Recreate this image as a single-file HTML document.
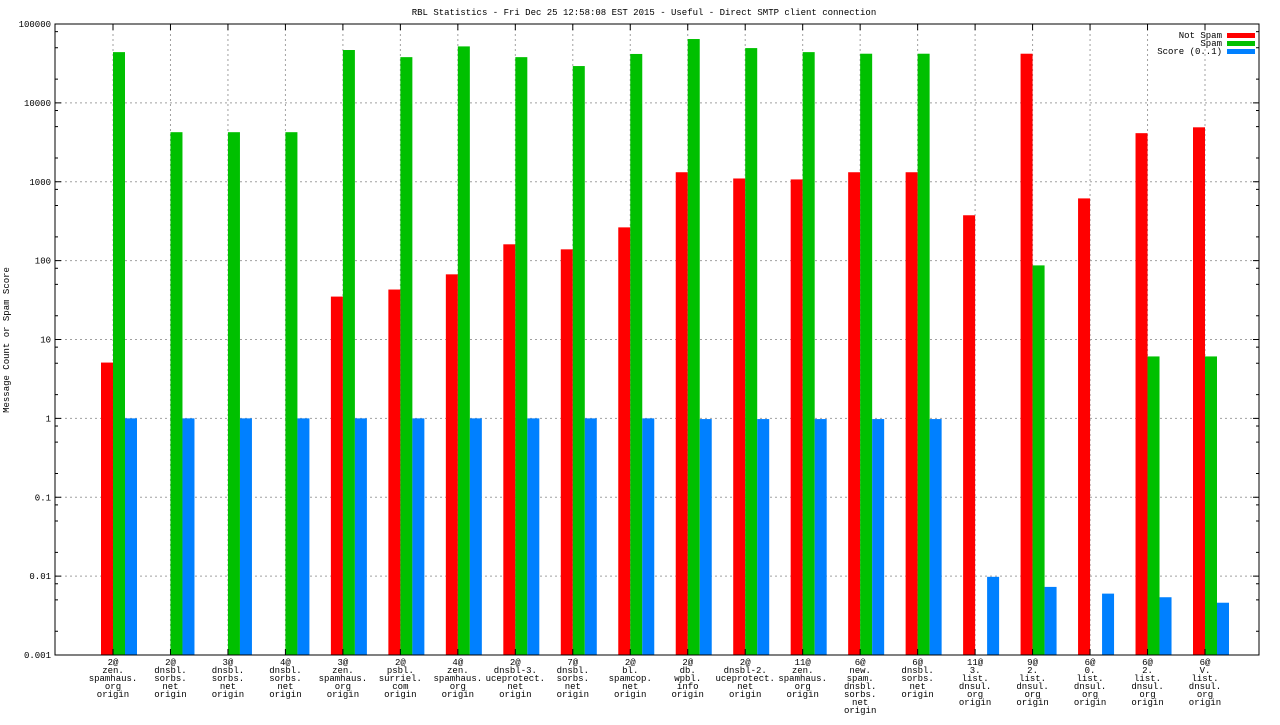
<!DOCTYPE html>
<html><head><meta charset="utf-8"><style>
body{margin:0;background:#fff;}
svg text{font-family:"Liberation Mono","DejaVu Sans Mono",monospace;font-size:9px;fill:#000;}
</style></head><body>
<svg id="chart" width="1280" height="720" xmlns="http://www.w3.org/2000/svg">
<text x="644" y="15" text-anchor="middle">RBL Statistics - Fri Dec 25 12:58:08 EST 2015 - Useful - Direct SMTP client connection</text>
<text transform="translate(9,340) rotate(-90)" text-anchor="middle">Message Count or Spam Score</text>
<g id="grid"></g><g id="bars"></g><g id="axes"></g>
<g>
<text x="1222" y="38" text-anchor="end">Not Spam</text><rect x="1227" y="33" width="28" height="5" fill="#ff0000"/>
<text x="1222" y="46" text-anchor="end">Spam</text><rect x="1227" y="41" width="28" height="5" fill="#00c000"/>
<text x="1222" y="54" text-anchor="end">Score (0..1)</text><rect x="1227" y="49" width="28" height="5" fill="#0080ff"/>
</g>
</svg>
<script>
const categories=[["2@","zen.","spamhaus.","org","origin"],["2@","dnsbl.","sorbs.","net","origin"],["3@","dnsbl.","sorbs.","net","origin"],["4@","dnsbl.","sorbs.","net","origin"],["3@","zen.","spamhaus.","org","origin"],["2@","psbl.","surriel.","com","origin"],["4@","zen.","spamhaus.","org","origin"],["2@","dnsbl-3.","uceprotect.","net","origin"],["7@","dnsbl.","sorbs.","net","origin"],["2@","bl.","spamcop.","net","origin"],["2@","db.","wpbl.","info","origin"],["2@","dnsbl-2.","uceprotect.","net","origin"],["11@","zen.","spamhaus.","org","origin"],["6@","new.","spam.","dnsbl.","sorbs.","net","origin"],["6@","dnsbl.","sorbs.","net","origin"],["11@","3.","list.","dnsul.","org","origin"],["9@","2.","list.","dnsul.","org","origin"],["6@","0.","list.","dnsul.","org","origin"],["6@","2.","list.","dnsul.","org","origin"],["6@","V.","list.","dnsul.","org","origin"]];
const notSpam=[5.1,0,0,0,35,43,67,161,139,264,1320,1100,1070,1320,1320,376,42000,615,4130,4900];
const spam=[44000,4250,4250,4250,46800,38000,52000,38000,29300,41700,64500,49500,44000,42000,42000,0,87,0,6.1,6.1];
const score=[1,1,1,1,1,1,1,1,1,1,0.98,0.98,0.98,0.98,0.98,0.0098,0.0073,0.006,0.0054,0.0046];
const yTicks=[0.001,0.01,0.1,1,10,100,1000,10000,100000];
const yTickLabels=["0.001","0.01","0.1","1","10","100","1000","10000","100000"];
const NS="http://www.w3.org/2000/svg";
const L=55,R=1259,T=24,B=655;
function y(v){return B-(Math.log10(v)+3)*(B-T)/8;}
function x(i){return 113+i*(1205-113)/19;}
function mk(tag,attrs,parent){const e=document.createElementNS(NS,tag);for(const k in attrs)e.setAttribute(k,attrs[k]);parent.appendChild(e);return e;}
const grid=document.getElementById('grid'),bars=document.getElementById('bars'),axes=document.getElementById('axes');
yTicks.forEach((v,k)=>{const yy=y(v);
 if(k>0&&k<yTicks.length-1){const g=mk('line',{x1:L,x2:R,y1:yy,y2:yy,stroke:'#a0a0a0','stroke-dasharray':'2,3'},grid);
 
 }
 mk('line',{x1:L,x2:L+6,y1:yy,y2:yy,stroke:'#000'},axes);mk('line',{x1:R-6,x2:R,y1:yy,y2:yy,stroke:'#000'},axes);
 const t=mk('text',{x:L-4,y:yy+3,'text-anchor':'end'},axes);t.textContent=yTickLabels[k];
 
 
 if(k<yTicks.length-1)[2,5,8].forEach(m=>{const my=y(v*m);mk('line',{x1:L,x2:L+3,y1:my,y2:my,stroke:'#000'},axes);mk('line',{x1:R-3,x2:R,y1:my,y2:my,stroke:'#000'},axes);});
});
categories.forEach((lab,i)=>{const xx=x(i);
 const g=mk('line',{x1:xx,x2:xx,y1:T,y2:B,stroke:'#a0a0a0','stroke-dasharray':'2,3'},grid);
 
 
 mk('line',{x1:xx,x2:xx,y1:B,y2:B-6,stroke:'#000'},axes);mk('line',{x1:xx,x2:xx,y1:T,y2:T+6,stroke:'#000'},axes);
 const t=mk('text',{x:xx,y:665,'text-anchor':'middle'},axes);
 
 
 lab.forEach((s,j)=>{const ts=mk('tspan',{x:xx,dy:j?8:0},t);ts.textContent=s;});
 [[notSpam,'#ff0000',-12,'bar-not-spam'],[spam,'#00c000',0,'bar-spam'],[score,'#0080ff',12,'bar-score']].forEach(([arr,c,o,n])=>{
  const v=arr[i];if(!v)return;const top=y(v);
  const r=mk('rect',{x:xx+o,y:top,width:12,height:B-top,fill:c},bars);
  
  
 });
});
const f=mk('rect',{x:L,y:T,width:R-L,height:B-T,fill:'none',stroke:'#000'},axes);


</script>
</body></html>
